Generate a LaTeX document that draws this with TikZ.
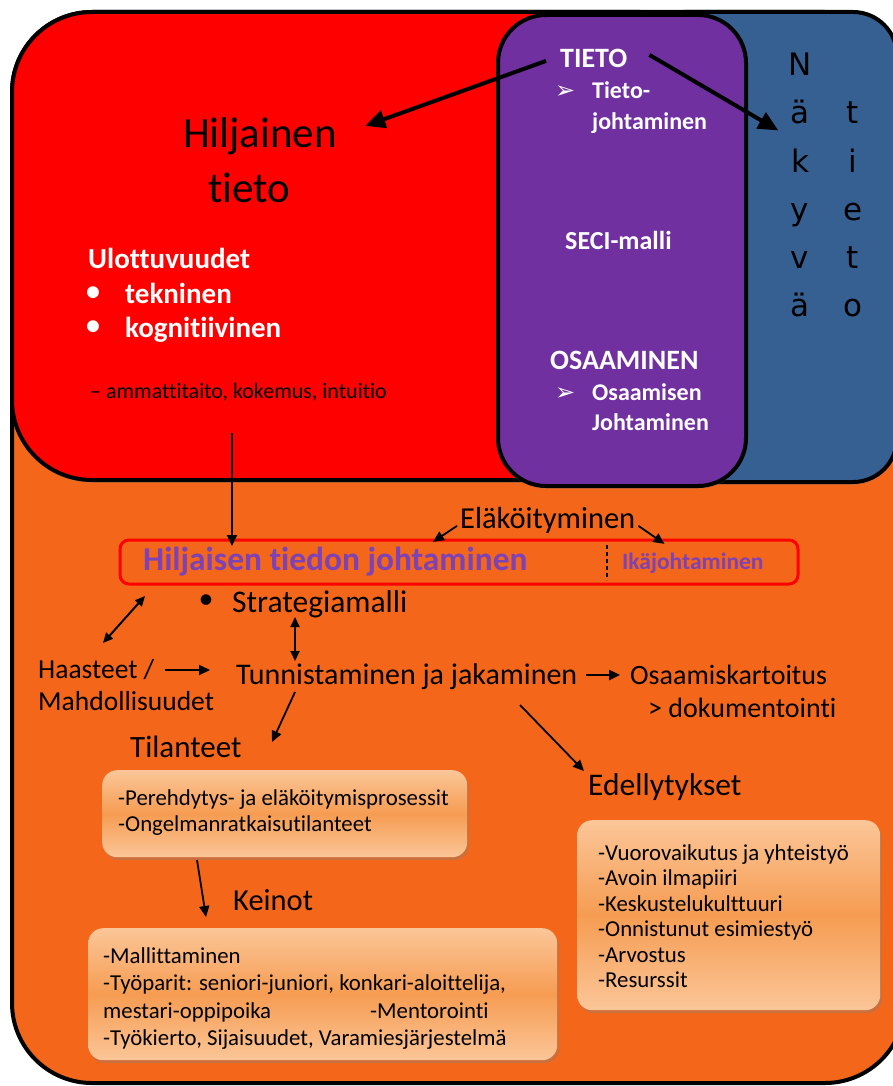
\documentclass[tikz,border=0pt]{standalone}
\usepackage{fontspec}
\setmainfont{Carlito}[Ligatures=NoCommon]
\newfontfamily\dejavu{DejaVu Sans}
\usetikzlibrary{arrows.meta,shadows}

\definecolor{hOrange}{RGB}{244,103,26}
\definecolor{hRed}{RGB}{255,0,0}
\definecolor{hPurple}{RGB}{112,48,160}
\definecolor{hBlue}{RGB}{55,96,146}
\definecolor{hText}{RGB}{124,66,182}
\definecolor{boxTop}{RGB}{251,198,152}
\definecolor{boxMid}{RGB}{246,156,82}

\newcommand\pxs[1]{\fontsize{#1}{#1}\selectfont}

\tikzset{
  region/.style={draw=black, line width=4pt,
    drop shadow={shadow xshift=0pt, shadow yshift=-3pt, opacity=0.25}},
  txt/.style={inner sep=0pt, anchor=base west},
  ctxt/.style={inner sep=0pt, anchor=base},
  bigarrow/.style={line width=4pt, -{Triangle[length=20pt,width=18pt]}},
  thinarrow/.style={line width=2.2pt, -{Triangle[length=11pt,width=10pt]}},
  dblarrow/.style={line width=2pt, {Triangle[length=10pt,width=9pt]}-{Triangle[length=10pt,width=9pt]}},
  infobox/.style={rounded corners=15pt, top color=boxTop, bottom color=boxTop, middle color=boxMid,
    drop shadow={shadow xshift=2pt, shadow yshift=-3pt, opacity=0.35}},
  boxtext/.style={txt, font=\pxs{22.8}},
}

\begin{document}
\begin{tikzpicture}[x=1pt,y=-1pt]
\useasboundingbox (0,0) rectangle (893,1086);
\fill[white] (0,0) rectangle (893,1086);
\clip (0,0) rectangle (893,1086);

% outer orange area
\draw[draw=black, line width=4pt, fill=hOrange, rounded corners=80pt] (12,12) rectangle (905,1083);
% tacit knowledge (red), explicit knowledge (blue), overlap (purple)
\draw[region, fill=hRed, rounded corners=80pt] (12,12) rectangle (720,480);
\draw[region, fill=hBlue, rounded corners=44pt] (640,12) rectangle (897,482);
\draw[region, fill=hPurple, rounded corners=48pt] (498,15) rectangle (746,486);

% red area texts
\node[txt, font=\pxs{43}] (hil1) at (183,148) {Hiljainen};
\node[txt, font=\pxs{43}] (hil2) at (208,202) {tieto};
\node[txt, font=\bfseries\pxs{29}, text=white] (ulot) at (88,268) {Ulottuvuudet};
\node[inner sep=0pt, font=\bfseries\pxs{28}, text=white] (b1) at (93,294) {\textbullet};
\node[txt, font=\bfseries\pxs{29}, text=white] (tek) at (125,303) {tekninen};
\node[inner sep=0pt, font=\bfseries\pxs{28}, text=white] (b2) at (93,328) {\textbullet};
\node[txt, font=\bfseries\pxs{29}, text=white] (kog) at (125,337) {kognitiivinen};
\node[txt, font=\pxs{22}] (amm) at (90,398) {– ammattitaito, kokemus, intuitio};

% purple area texts
\node[txt, font=\bfseries\pxs{28}, text=white] (tieto) at (560,68) {TIETO};
\node[txt, font=\dejavu\pxs{24}, text=white] (ar1) at (555,99) {➢};
\node[txt, font=\bfseries\pxs{24}, text=white] (tj1) at (592,99) {Tieto-};
\node[txt, font=\bfseries\pxs{24}, text=white] (tj2) at (592,130) {johtaminen};
\node[txt, font=\bfseries\pxs{26}, text=white] (seci) at (565,249) {SECI-malli};
\node[txt, font=\bfseries\pxs{28}, text=white] (osa) at (550,369) {OSAAMINEN};
\node[txt, font=\dejavu\pxs{24}, text=white] (ar2) at (555,400) {➢};
\node[txt, font=\bfseries\pxs{24}, text=white] (oj1) at (592,400) {Osaamisen};
\node[txt, font=\bfseries\pxs{24}, text=white] (oj2) at (592,430) {Johtaminen};

% blue area: vertical text
\foreach \l [count=\i] in {N,ä,k,y,v,ä}
  \node[ctxt, font=\dejavu\pxs{31}] (nv\i) at (800,28+48*\i) {\l};
\foreach \l [count=\i] in {t,i,e,t,o}
  \node[ctxt, font=\dejavu\pxs{31}] (nt\i) at (853,76+48*\i) {\l};

\draw[bigarrow] ([xshift=-14pt,yshift=-2pt]tieto.west) -- ([xshift=28pt,yshift=-8pt]hil1.north east);
\draw[bigarrow] ([xshift=22pt,yshift=4pt]tieto.east) -- ([xshift=-12pt,yshift=-18pt]nv2.west);

% management box
\draw[hRed, line width=3pt, rounded corners=9pt] (120,540) rectangle (798,584);
\coordinate (hjtop) at (232,540);
\draw[dashed, line width=1.2pt, dash pattern=on 4pt off 3pt] (607,545) -- (607,580);
\node[txt, font=\bfseries\pxs{33.4}, text=hText] (hjt) at (143,570) {Hiljaisen tiedon johtaminen};
\node[txt, font=\bfseries\pxs{23.5}, text=hText] (ika) at (622,569) {Ikäjohtaminen};

\coordinate (redbottom) at (232,433);
\draw[thinarrow] (redbottom) -- ([yshift=-6pt]hjtop);

\node[txt, font=\pxs{30.5}] (elak) at (460,528) {Eläköityminen};
\draw[thinarrow, line width=1.8pt] ([xshift=-3pt,yshift=-6pt]elak.west) -- ++(-24,16);
\draw[thinarrow, line width=1.8pt] ([xshift=3pt,yshift=-6pt]elak.east) -- ++(26,18);

\node[inner sep=0pt, font=\pxs{30}] (b3) at (206,602) {\textbullet};
\node[txt, font=\pxs{31.5}] (strat) at (232,612) {Strategiamalli};

\node[txt, font=\pxs{27.5}] (haa1) at (38,678) {Haasteet /};
\node[txt, font=\pxs{27.5}] (haa2) at (38,710) {Mahdollisuudet};
\node[txt, font=\pxs{30}] (tunn) at (236,684) {Tunnistaminen ja jakaminen};
\node[txt, font=\pxs{28}] (osk) at (630,684) {Osaamiskartoitus};
\node[txt, font=\pxs{28}] (dok) at (648,717) {> dokumentointi};
\node[txt, font=\pxs{31}] (til) at (130,757) {Tilanteet};
\node[txt, font=\pxs{31.5}] (ede) at (588,795) {Edellytykset};
\node[txt, font=\pxs{30.5}] (kei) at (233,910) {Keinot};

\draw[dblarrow] (145,596) -- (103,643);
\draw[dblarrow] (295,617) -- (295,661);
\draw[thinarrow, line width=1.8pt] ([xshift=10pt]haa1.east |- 0,670) -- (210,670);
\draw[thinarrow, line width=2.4pt] (586,675) -- (620,675);
\draw[thinarrow, line width=1.8pt] (295,692) -- (272,742);
\draw[thinarrow, line width=1.8pt] (520,705) -- (584,771);

% information boxes
\node[infobox, minimum width=365pt, minimum height=87pt, anchor=north west] (box1) at (102,770) {};
\node[boxtext] (t11) at (118,805) {-Perehdytys- ja eläköitymisprosessit};
\node[boxtext] (t12) at (118,831) {-Ongelmanratkaisutilanteet};

\draw[thinarrow, line width=1.8pt] (197,860) -- (206,917);

\node[infobox, minimum width=469pt, minimum height=132pt, anchor=north west] (box2) at (88,928) {};
\node[boxtext] (t21) at (103,963) {-Mallittaminen};
\node[boxtext] (t22) at (103,990) {-Työparit: seniori-juniori, konkari-aloittelija,};
\node[boxtext] (t23) at (103,1018) {mestari-oppipoika};
\node[boxtext] (t24) at (370,1018) {-Mentorointi};
\node[boxtext] (t25) at (103,1045) {-Työkierto, Sijaisuudet, Varamiesjärjestelmä};

\node[infobox, minimum width=303pt, minimum height=190pt, anchor=north west] (box3) at (577,820) {};
\node[boxtext] (t31) at (598,860) {-Vuorovaikutus ja yhteistyö};
\node[boxtext] (t32) at (598,885) {-Avoin ilmapiiri};
\node[boxtext] (t33) at (598,911) {-Keskustelukulttuuri};
\node[boxtext] (t34) at (598,936) {-Onnistunut esimiestyö};
\node[boxtext] (t35) at (598,962) {-Arvostus};
\node[boxtext] (t36) at (598,987) {-Resurssit};
\end{tikzpicture}
\end{document}
